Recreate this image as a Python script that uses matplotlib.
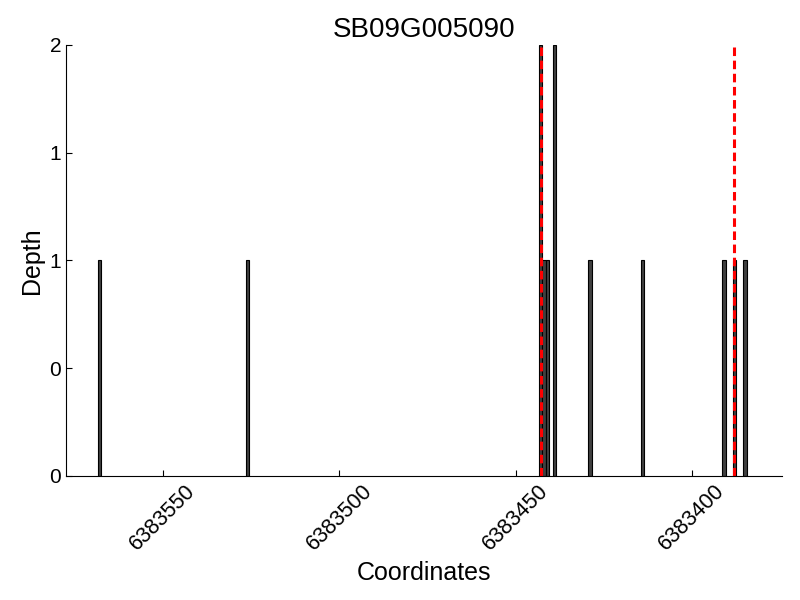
import numpy as np
import matplotlib
matplotlib.use("Agg")
import matplotlib.pyplot as plt
from matplotlib.ticker import FuncFormatter

plt.rcParams['font.family'] = ['Liberation Sans', 'DejaVu Sans']

gene = "SB09G005090"
positions = [6383568, 6383526, 6383443, 6383442, 6383441, 6383439,
             6383429, 6383414, 6383391, 6383388, 6383385]
depths = [1, 1, 2, 1, 1, 2, 1, 1, 1, 1, 1]
markers = [6383442.7, 6383388]
xticks = [6383550, 6383500, 6383450, 6383400]

fig = plt.figure(figsize=(8, 6), dpi=100)
ax = fig.add_axes([0.0825, 0.2067, 0.895, 0.7183])
ax.bar(positions, depths, width=1, color='#404040', edgecolor='black', linewidth=0.8)
for m in markers:
    ax.axvline(m, color='red', linestyle='--', linewidth=2.2, dashes=(2.8, 1.5))

ax.set_xlim(max(positions) + 9.5, min(positions) - 10.5)
ax.set_ylim(0, 2)
ax.set_yticks(np.arange(0, 2.01, 0.5))
ax.yaxis.set_major_formatter(FuncFormatter(lambda v, p: "%d" % v))
ax.set_xticks(xticks)
ax.set_xticklabels([str(t) for t in xticks], rotation=45, fontsize=15.5)
ax.tick_params(axis='y', labelsize=15)
ax.tick_params(direction='in', length=4, top=False, right=False)
for s in ['top', 'right']:
    ax.spines[s].set_visible(False)
ax.set_xlabel("Coordinates", fontsize=18)
ax.set_ylabel("Depth", fontsize=18)
ax.set_title(gene, fontsize=20)
plt.savefig("out.png")
